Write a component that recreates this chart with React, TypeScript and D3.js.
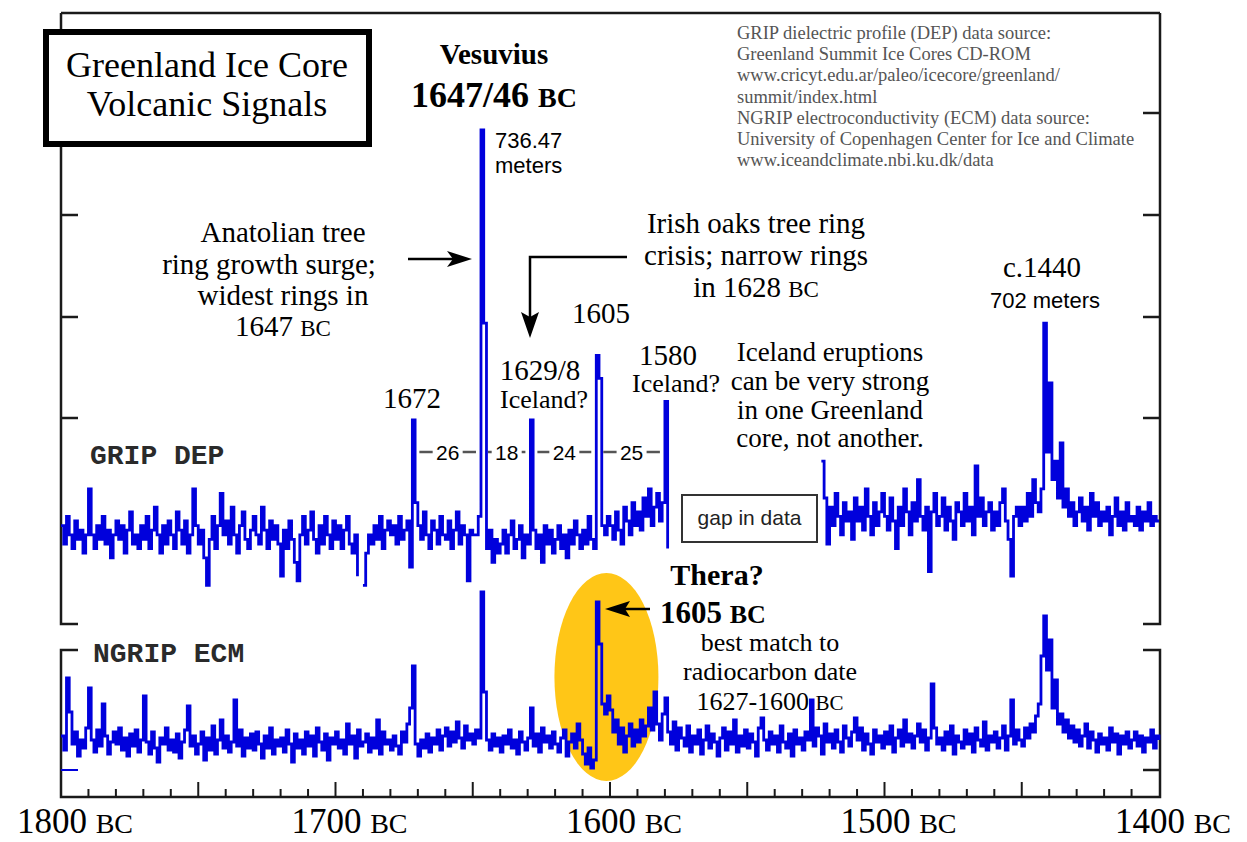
import React from 'react';
import * as d3 from 'd3';

// yearly samples from 1800 BC down to 1400 BC, null = no data
const firstYear = 1800;

// GRIP dielectric profile (relative units)
const gripDep: (number | null)[] = [
  14, 10, 16, 12, 9, 15, 11, 13, 8, 12,
  22, 12, 9, 14, 11, 16, 10, 13, 7, 12,
  15, 11, 14, 8, 13, 17, 10, 12, 9, 14,
  11, 16, 9, 13, 18, 12, 8, 14, 10, 15,
  12, 9, 17, 13, 10, 15, 8, 12, 22, 14,
  10, 13, 7, 1, 11, 16, 9, 14, 21, 12,
  15, 10, 18, 12, 8, 14, 17, 11, 9, 13,
  16, 12, 10, 18, 13, 9, 15, 11, 14, 10,
  3, 13, 9, 15, 11, 6, 2, 12, 16, 10,
  13, 17, 11, 8, 14, 10, 16, 12, 9, 15,
  11, 14, 9, 13, 16, 10, 8, 12, 3, null,
  1, 8, 12, 10, 14, 11, 16, 9, 13, 15,
  12, 14, 10, 16, 11, 13, 15, 5, 37, 19,
  14, 11, 17, 12, 9, 15, 13, 10, 16, 12,
  11, 15, 9, 13, 17, 10, 14, 12, 2, 13,
  12, 12, 16, 100, 58, 9, 13, 6, 11, 8,
  10, 13, 8, 12, 15, 9, 11, 14, 7, 12,
  10, 37, 13, 9, 12, 6, 14, 10, 13, 8,
  11, 14, 9, 12, 7, 13, 10, 15, 12, 9,
  13, 10, 16, 11, 9, 51, 46, 14, 12, 16,
  14, 11, 17, 13, 10, 18, 15, 12, 19, 14,
  17, 13, 20, 16, 22, 14, 18, 21, 15, 19,
  41, 9, null, null, null, null, null, null, null, null,
  null, null, null, null, null, null, null, null, null, null,
  null, null, null, null, null, null, null, null, null, null,
  null, null, null, null, null, null, null, null, null, null,
  null, null, null, null, null, null, null, null, null, null,
  null, null, null, null, null, null, null, 28, 20, 10,
  18, 14, 21, 16, 12, 19, 15, 17, 11, 20,
  15, 18, 13, 22, 16, 12, 19, 14, 17, 21,
  16, 13, 20, 15, 9, 18, 14, 22, 17, 12,
  19, 15, 24, 16, 13, 18, 4, 17, 21, 14,
  16, 20, 13, 18, 15, 11, 19, 17, 14, 21,
  15, 18, 12, 27, 16, 20, 14, 17, 19, 13,
  17, 14, 19, 22, 15, 11, 3, 16, 18, 14,
  18, 15, 21, 16, 24, 19, 17, 22, 58, 30,
  45, 24, 28, 20, 32, 18, 22, 16, 19, 14,
  17, 20, 15, 18, 13, 21, 16, 19, 14, 17,
  15, 18, 12, 16, 20, 14, 17, 13, 19, 15,
  16, 14, 18, 13, 17, 15, 19, 14, 16, 15,
  15,
];

// NGRIP electroconductivity (relative units)
const ngripEcm: number[] = [
  22, 15, 51, 34, 18, 24, 12, 20, 16, 26,
  46, 20, 14, 25, 17, 38, 22, 13, 19, 24,
  18, 26, 15, 21, 12, 23, 17, 25, 14, 20,
  42, 19, 13, 24, 16, 9, 21, 18, 26, 15,
  20, 14, 23, 11, 19, 25, 37, 17, 22, 13,
  18, 24, 10, 21, 15, 27, 13, 20, 30, 16,
  22, 14, 19, 40, 17, 25, 12, 21, 16, 23,
  15, 24, 18, 11, 22, 16, 26, 13, 20, 17,
  21, 14, 25, 18, 9, 23, 16, 20, 13, 24,
  17, 22, 12, 26, 19, 15, 23, 10, 21, 18,
  24, 16, 20, 13, 28, 18, 22, 11, 25, 17,
  19, 23, 14, 21, 16, 30, 13, 24, 18, 20,
  15, 22, 17, 13, 24, 19, 28, 36, 57, 18,
  12, 20, 16, 23, 14, 21, 18, 25, 15, 22,
  26, 17, 24, 19, 29, 21, 16, 27, 20, 23,
  18, 25, 21, 94, 44, 20, 15, 23, 17, 21,
  14, 22, 18, 25, 16, 20, 13, 24, 19, 15,
  21, 36, 17, 23, 14, 26, 19, 22, 16, 24,
  18, 14, 21, 25, 12, 19, 23, 16, 28, 20,
  13, 8, 16, 6, 10, 89, 68, 38, 33, 42,
  35, 24, 30, 18, 26, 14, 22, 28, 17, 25,
  19, 30, 22, 27, 36, 25, 44, 28, 20, 33,
  41, 24, 18, 29, 15, 26, 21, 17, 27, 14,
  22, 18, 25, 13, 20, 27, 16, 23, 19, 12,
  21, 26, 15, 24, 18, 30, 14, 22, 17, 25,
  16, 23, 19, 12, 26, 31, 20, 15, 24, 18,
  22, 14, 27, 19, 16, 23, 12, 25, 18, 21,
  15, 24, 20, 40, 17, 26, 22, 13, 28, 19,
  23, 16, 25, 19, 14, 27, 21, 17, 24, 31,
  20, 26, 15, 23, 18, 13, 25, 19, 22, 16,
  24, 18, 27, 14, 21, 25, 17, 30, 19, 23,
  16, 22, 28, 19, 25, 15, 21, 48, 26, 18,
  21, 15, 24, 18, 27, 13, 22, 19, 16, 25,
  18, 23, 14, 26, 20, 17, 29, 15, 22, 19,
  24, 16, 21, 27, 15, 22, 40, 18, 25, 20,
  17, 26, 21, 28, 24, 32, 38, 62, 82, 55,
  70, 36, 50, 28, 33, 24, 30, 21, 27, 19,
  25, 17, 22, 28, 16, 24, 20, 14, 23, 18,
  21, 15, 26, 19, 23, 13, 22, 18, 24, 16,
  20, 24, 17, 22, 14, 21, 19, 25, 16, 22,
  20,
];

const axisYears = [1800, 1700, 1600, 1500, 1400];
const spikeYears = [1672, 1647, 1629, 1605, 1580];
const spikeGaps = ['26', '18', '24', '25'];
const sourceLines = [
  'GRIP dielectric profile (DEP) data source:',
  'Greenland Summit Ice Cores CD-ROM',
  'www.cricyt.edu.ar/paleo/icecore/greenland/',
  'summit/index.html',
  'NGRIP electroconductivity (ECM) data source:',
  'University of Copenhagen Center for Ice and Climate',
  'www.iceandclimate.nbi.ku.dk/data',
];

const W = 1247, H = 842;
const L = 61, R = 1160, T = 13, B = 797;
const SERIF = '"Liberation Serif", "Times New Roman", serif';
const SANS = '"Liberation Sans", Arial, sans-serif';
const MONO = '"Liberation Mono", "DejaVu Sans Mono", monospace';
const BLUE = '#0000dc';
const INK = '#1a1a1a';

const x = d3.scaleLinear().domain([1800, 1400]).range([L, 1159]);
const yGrip = d3.scaleLinear().domain([0, 100]).range([590, 130]);
const yNgrip = d3.scaleLinear().domain([0, 100]).range([780, 580]);

type Pt = { year: number; v: number | null };
const gripPts: Pt[] = gripDep.map((v, i) => ({ year: firstYear - i, v }));
const ngripPts: Pt[] = ngripEcm.map((v, i) => ({ year: firstYear - i, v }));

const gripLine = d3.line<Pt>().defined(d => d.v != null).x(d => x(d.year)).y(d => yGrip(d.v as number)).curve(d3.curveStepAfter);
const ngripLine = d3.line<Pt>().x(d => x(d.year)).y(d => yNgrip(d.v as number)).curve(d3.curveStepAfter);

const BC = ({ size }: { size: number }) => <tspan fontSize={size}>BC</tspan>;

export default function App() {
  const sideTicks = [113, 215, 317, 418];
  const minorYears = x.ticks(40).filter(yr => yr < 1800 && yr > 1400);

  const frame = [
    `M${L},${T}H${R}`,
    `M${L},${T}V624H${L + 17}`,
    `M${L + 17},650H${L}V${B}H${R}V650H${R - 17}`,
    `M${R - 17},624H${R}V${T}`,
  ].join('');

  return (
    <div style={{ position: 'absolute', left: 0, top: 0 }}>
      <svg width={W} height={H} style={{ display: 'block', background: '#fff' }}>
        {/* Thera highlight */}
        <ellipse cx={x(1601.3)} cy={yNgrip(51.5)} rx={52} ry={104} fill="#ffc617" />

        {/* frame */}
        <path d={frame} fill="none" stroke={INK} strokeWidth={2.5} />
        {sideTicks.map(t => (
          <g key={t}>
            <line x1={L} x2={L + 17} y1={t} y2={t} stroke={INK} strokeWidth={2.5} />
            <line x1={R - 17} x2={R} y1={t} y2={t} stroke={INK} strokeWidth={2.5} />
          </g>
        ))}
        <line x1={L} x2={L + 17} y1={770} y2={770} stroke={BLUE} strokeWidth={2} />
        <line x1={R - 17} x2={R} y1={770} y2={770} stroke={INK} strokeWidth={2.5} />
        {minorYears.map(yr => (
          <line key={yr} x1={x(yr)} x2={x(yr)} y1={B} y2={yr % 50 === 0 ? B - 15 : B - 8} stroke={INK} strokeWidth={2} />
        ))}
        {axisYears.map(yr => (
          <text key={yr} x={x(yr) + 14} y={833} textAnchor="middle" fontFamily={SERIF} fontSize={35}>
            {yr} <BC size={28} />
          </text>
        ))}

        {/* series */}
        <path d={gripLine(gripPts) || ''} fill="none" stroke={BLUE} strokeWidth={2.8} strokeLinejoin="miter" />
        <path d={ngripLine(ngripPts) || ''} fill="none" stroke={BLUE} strokeWidth={2.8} strokeLinejoin="miter" />

        <text x={90} y={464} fontFamily={MONO} fontSize={28} fontWeight="bold" fill="#2a2a2a">GRIP DEP</text>
        <text x={93} y={662} fontFamily={MONO} fontSize={28} fontWeight="bold" fill="#2a2a2a">NGRIP ECM</text>

        {/* title */}
        <rect x={46} y={32} width={323} height={112} fill="#fff" stroke="#000" strokeWidth={6} />
        <g fontFamily={SERIF} fontSize={36} textAnchor="middle">
          <text x={207} y={77}>Greenland Ice Core</text>
          <text x={207} y={116}>Volcanic Signals</text>
        </g>

        {/* source note */}
        <g fontFamily={SERIF} fontSize={18.5} fill="#555">
          {sourceLines.map((s, i) => (
            <text key={i} x={737} y={39 + i * 21.2}>{s}</text>
          ))}
        </g>

        {/* Vesuvius */}
        <g fontFamily={SERIF} fontWeight="bold" textAnchor="middle">
          <text x={494} y={64} fontSize={29}>Vesuvius</text>
          <text x={494} y={107} fontSize={36}>1647/46 <BC size={28} /></text>
        </g>
        <g fontFamily={SANS} fontSize={22}>
          <text x={495} y={148}>736.47</text>
          <text x={495} y={173}>meters</text>
          <text x={1045} y={308} textAnchor="middle">702 meters</text>
        </g>

        <g fontFamily={SERIF} fontSize={29} textAnchor="middle">
          <text x={283} y={242}>Anatolian tree</text>
          <text x={269} y={274}>ring growth surge;</text>
          <text x={283} y={305}>widest rings in</text>
          <text x={283} y={336}>1647 <BC size={23} /></text>

          <text x={756} y={233}>Irish oaks tree ring</text>
          <text x={756} y={265}>crisis; narrow rings</text>
          <text x={756} y={297}>in 1628 <BC size={23} /></text>

          <text x={601} y={323}>1605</text>
          <text x={540} y={380}>1629/8</text>
          <text x={668} y={365}>1580</text>
          <text x={412} y={408}>1672</text>
          <text x={1042} y={277}>c.1440</text>
        </g>
        <g fontFamily={SERIF} fontSize={26} textAnchor="middle">
          <text x={544} y={408}>Iceland?</text>
          <text x={676} y={392}>Iceland?</text>
        </g>
        <g fontFamily={SERIF} fontSize={27} textAnchor="middle">
          <text x={830} y={361}>Iceland eruptions</text>
          <text x={830} y={390}>can be very strong</text>
          <text x={830} y={419}>in one Greenland</text>
          <text x={830} y={447}>core, not another.</text>
        </g>

        {/* arrows */}
        <line x1={408} x2={455} y1={259} y2={259} stroke="#000" strokeWidth={2.5} />
        <path d="M472,259L447,251L453,259L447,267Z" fill="#000" />
        <path d="M627,257H530V318" fill="none" stroke="#000" strokeWidth={2.5} />
        <path d="M530,338L521,312L530,317L539,312Z" fill="#000" />
        <line x1={624} x2={650} y1={609} y2={609} stroke="#000" strokeWidth={2.5} />
        <path d="M605,609L630,601L625,609L630,617Z" fill="#000" />

        {/* intervals between eruptions */}
        {spikeGaps.map((g, i) => {
          const a = x(spikeYears[i]) + 7;
          const b = x(spikeYears[i + 1]) - 5;
          const c = (a + b) / 2;
          return (
            <g key={g}>
              <line x1={a} x2={c - 15} y1={452} y2={452} stroke="#555" strokeWidth={2.5} />
              <line x1={c + 15} x2={b} y1={452} y2={452} stroke="#555" strokeWidth={2.5} />
              <text x={c} y={460} textAnchor="middle" fontFamily={SANS} fontSize={21}>{g}</text>
            </g>
          );
        })}

        {/* gap box */}
        <rect x={682} y={495} width={135} height={47} fill="#fff" stroke="#333" strokeWidth={2} />
        <text x={749.5} y={525} textAnchor="middle" fontFamily={SANS} fontSize={21} fill="#222">gap in data</text>

        {/* Thera */}
        <g fontFamily={SERIF} fontWeight="bold">
          <text x={717} y={585} fontSize={30} textAnchor="middle">Thera?</text>
          <text x={660} y={623} fontSize={31}>1605 <BC size={26} /></text>
        </g>
        <g fontFamily={SERIF} fontSize={26} textAnchor="middle">
          <text x={770} y={651}>best match to</text>
          <text x={770} y={680}>radiocarbon date</text>
          <text x={770} y={710}>1627-1600 <BC size={21} /></text>
        </g>
      </svg>
    </div>
  );
}
